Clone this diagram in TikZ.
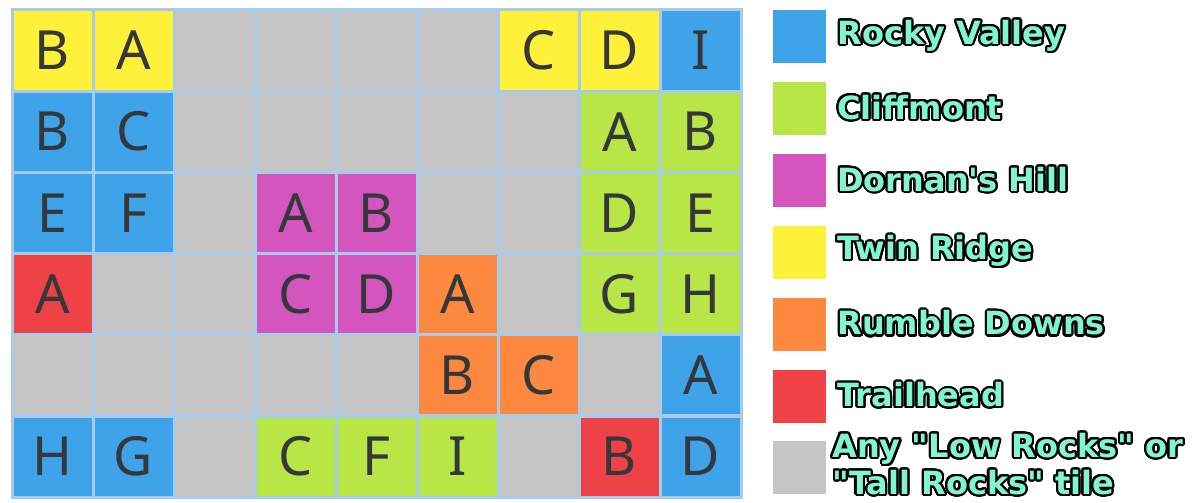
\documentclass[tikz,border=0pt]{standalone}
\usepackage{fontspec}
\usepackage{contour}
\usetikzlibrary{positioning}
\newfontfamily\tilefont{Noto Sans}
\newfontfamily\legendfont{DejaVu Sans}
\definecolor{gridblue}{HTML}{A9CBEA}
\definecolor{rockgray}{HTML}{C5C5C5}
\definecolor{rockyblue}{HTML}{3FA3EA}
\definecolor{cliffgreen}{HTML}{B7E646}
\definecolor{dornanpink}{HTML}{D455BD}
\definecolor{twinyellow}{HTML}{FFF03A}
\definecolor{rumbleorange}{HTML}{FD8840}
\definecolor{trailred}{HTML}{EE4246}
\definecolor{tileink}{HTML}{35383B}
\definecolor{keyaqua}{HTML}{80F5CF}
\contourlength{2.1pt}
\contournumber{24}

\begin{document}
\begin{tikzpicture}[
    x=1pt, y=-1pt,
    cell/.style={rectangle, draw=gridblue, line width=3pt, minimum size=81pt,
                 inner sep=0pt, text=tileink,
                 font=\tilefont\fontsize{54}{54}\selectfont},
    swatch/.style={rectangle, minimum size=53pt, inner sep=0pt},
    keytext/.style={inner sep=1pt, align=left, text=keyaqua,
                    font=\legendfont\bfseries\fontsize{32}{37}\selectfont}
]
\useasboundingbox (0,0) rectangle (1194,503);

% rock background
\foreach \r in {0,...,5}
  \foreach \c in {0,...,8}
    \node[cell, fill=rockgray] (g\r\c) at ({52.5+81*\c},{50.5+81.2*\r}) {};

% coloured tiles
\foreach \r/\c/\col/\txt in {
    0/0/twinyellow/B, 0/1/twinyellow/A, 0/6/twinyellow/C, 0/7/twinyellow/D, 0/8/rockyblue/I,
    1/0/rockyblue/B, 1/1/rockyblue/C, 1/7/cliffgreen/A, 1/8/cliffgreen/B,
    2/0/rockyblue/E, 2/1/rockyblue/F, 2/3/dornanpink/A, 2/4/dornanpink/B, 2/7/cliffgreen/D, 2/8/cliffgreen/E,
    3/0/trailred/A, 3/3/dornanpink/C, 3/4/dornanpink/D, 3/5/rumbleorange/A, 3/7/cliffgreen/G, 3/8/cliffgreen/H,
    4/5/rumbleorange/B, 4/6/rumbleorange/C, 4/8/rockyblue/A,
    5/0/rockyblue/H, 5/1/rockyblue/G, 5/3/cliffgreen/C, 5/4/cliffgreen/F, 5/5/cliffgreen/I,
    5/7/trailred/B, 5/8/rockyblue/D}
    \node[cell, fill=\col] (t\r\c) at ({52.5+81*\c},{50.5+81.2*\r}) {\txt};

% legend
\node[swatch, fill=rockyblue]                  (sw1) at (799.5,36.5) {};
\node[swatch, fill=cliffgreen,   below=18.5pt of sw1] (sw2) {};
\node[swatch, fill=dornanpink,   below=18.5pt of sw2] (sw3) {};
\node[swatch, fill=twinyellow,   below=18.5pt of sw3] (sw4) {};
\node[swatch, fill=rumbleorange, below=18.5pt of sw4] (sw5) {};
\node[swatch, fill=trailred,     below=18.5pt of sw5] (sw6) {};
\node[swatch, fill=rockgray,     below=18.5pt of sw6] (sw7) {};

\node[keytext, right=10pt of sw1] (k1) {\contour{black}{Rocky Valley}};
\node[keytext, right=10pt of sw2] (k2) {\contour{black}{Cliffmont}};
\node[keytext, right=10pt of sw3] (k3) {\contour{black}{Dornan's Hill}};
\node[keytext, right=10pt of sw4] (k4) {\contour{black}{Twin Ridge}};
\node[keytext, right=10pt of sw5] (k5) {\contour{black}{Rumble Downs}};
\node[keytext, right=10pt of sw6] (k6) {\contour{black}{Trailhead}};
\node[keytext, right=5pt of sw7, yshift=3pt] (k7)
    {\contour{black}{Any "Low Rocks" or}\\\contour{black}{"Tall Rocks" tile}};
\end{tikzpicture}
\end{document}
